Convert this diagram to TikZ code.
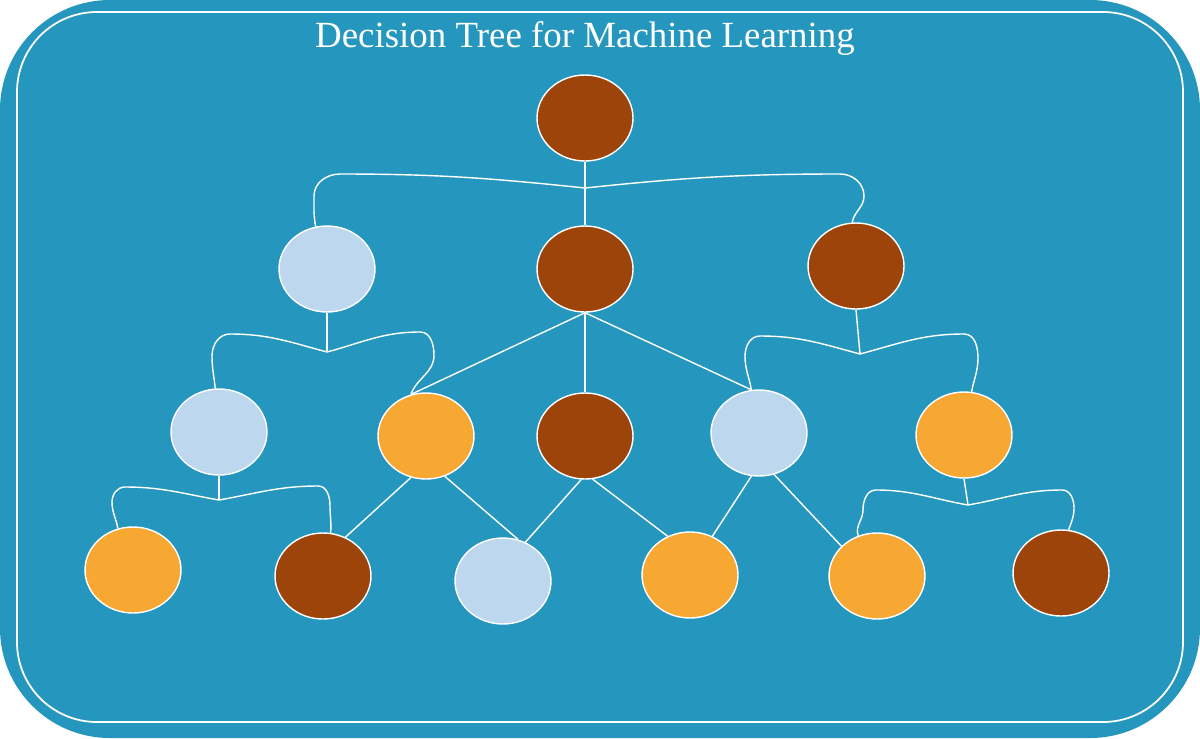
\documentclass[tikz,border=0pt]{standalone}
\usetikzlibrary{shapes.geometric}
\usepackage{fontspec}
\setmainfont{Liberation Serif}
\definecolor{bg}{HTML}{2596BE}
\definecolor{brn}{HTML}{9C440A}
\definecolor{lgt}{HTML}{BDD7EE}
\definecolor{org}{HTML}{F7A833}
\begin{document}
\begin{tikzpicture}[x=0.02cm,y=-0.02cm,
  nd/.style={ellipse,draw=white,line width=0.8pt,minimum width=1.92cm,minimum height=1.72cm,inner sep=0pt},
  B/.style={nd,fill=brn},L/.style={nd,fill=lgt},O/.style={nd,fill=org},
  con/.style={draw=white,line width=0.8pt}]
\useasboundingbox (0,0) rectangle (1200,738);
\fill[white] (0,0) rectangle (1200,738);
\fill[bg,rounded corners=2.2cm] (0,0) rectangle (1200,738);
\draw[white,line width=1pt,rounded corners=1.6cm] (17,12) rectangle (1183,722);
\node[text=white,font=\fontsize{21}{24}\selectfont] (title) at (585,38) {Decision Tree for Machine Learning};
\node[B] (r) at (585,118) {};
\node[L] (a) at (327,269) {};
\node[B] (b) at (585,269) {};
\node[B] (c) at (856,266) {};
\node[L] (d) at (219,432) {};
\node[O] (e) at (426,436) {};
\node[B] (f) at (585,436) {};
\node[L] (g) at (759,433) {};
\node[O] (h) at (964,435) {};
\node[O] (i) at (133,570) {};
\node[B] (j) at (323,576) {};
\node[L] (k) at (503,581) {};
\node[O] (l) at (690,575) {};
\node[O] (m) at (877,576) {};
\node[B] (n) at (1061,573) {};
% root bracket
\coordinate (jr) at (585,188);
\draw[con] (r.south) -- (jr) -- (b.north);
\draw[con] (jr) to[out=174,in=0] (340,174) to[out=180,in=90] (314,196) to[out=-90,in=100] (a.105);
\draw[con] (jr) to[out=6,in=180] (840,174) to[out=0,in=90] (864,196) to[out=-90,in=80] (c.95);
% a bracket
\coordinate (ja) at (327,352);
\draw[con] (a.south) -- (ja);
\draw[con] (ja) to[out=165,in=0] (230,334) to[out=180,in=90] (212,356) to[out=-90,in=95] (d.95);
\draw[con] (ja) to[out=15,in=180] (420,332) to[out=0,in=90] (434,355) to[out=-90,in=70] (e.110);
% b lines
\draw[con] (b.south) -- (e.110);
\draw[con] (b.south) -- (f.north);
\draw[con] (b.south) -- (g.100);
% c bracket
\coordinate (jc) at (860,354);
\draw[con] (c.south) -- (jc);
\draw[con] (jc) to[out=165,in=0] (760,336) to[out=180,in=90] (745,356) to[out=-90,in=100] (g.100);
\draw[con] (jc) to[out=15,in=180] (964,334) to[out=0,in=90] (978,358) to[out=-90,in=80] (h.80);
% d bracket
\coordinate (jd) at (219,500);
\draw[con] (d.south) -- (jd);
\draw[con] (jd) to[out=170,in=0] (125,487) to[out=180,in=90] (112,502) to[out=-90,in=100] (i.110);
\draw[con] (jd) to[out=10,in=180] (318,486) to[out=0,in=90] (330,506) to[out=-90,in=85] (j.80);
% e,f,g lines
\draw[con] (e.-110) -- (j.60);
\draw[con] (e.-65) -- (k.70);
\draw[con] (f.-95) -- (k.60);
\draw[con] (f.-80) -- (l.120);
\draw[con] (g.-100) -- (l.60);
\draw[con] (g.-70) -- (m.140);
% h bracket
\coordinate (jh) at (968,505);
\draw[con] (h.south) -- (jh);
\draw[con] (jh) to[out=170,in=0] (876,490) to[out=180,in=90] (863,510) to[out=-90,in=110] (m.115);
\draw[con] (jh) to[out=10,in=180] (1062,490) to[out=0,in=90] (1074,508) to[out=-90,in=70] (n.80);
\end{tikzpicture}
\end{document}
